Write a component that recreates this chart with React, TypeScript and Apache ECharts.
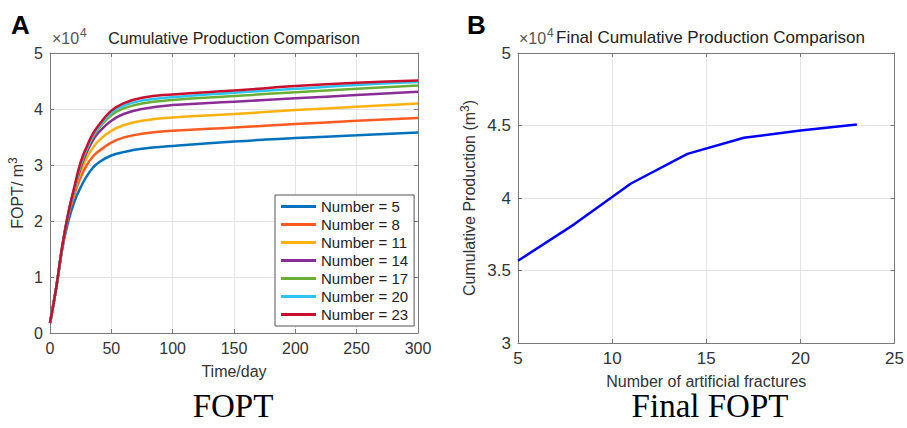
import React, { useEffect, useRef } from "react";
import * as echarts from "echarts";

// Time axis (days) and cumulative production (×10^4 m³) for each fracture count
const TIME_DAYS = [0, 5, 10, 15, 20, 25, 30, 35, 40, 50, 60, 75, 100, 150, 200, 250, 300];
const N5 = [0.18, 0.8, 1.5, 2.0, 2.35, 2.6, 2.8, 2.95, 3.05, 3.17, 3.23, 3.29, 3.34, 3.42, 3.48, 3.53, 3.58];
const N8 = [0.18, 0.8, 1.52, 2.1, 2.48, 2.78, 3.0, 3.15, 3.25, 3.4, 3.49, 3.56, 3.61, 3.67, 3.73, 3.79, 3.84];
const N11 = [0.18, 0.8, 1.53, 2.12, 2.53, 2.88, 3.13, 3.31, 3.44, 3.61, 3.71, 3.79, 3.85, 3.91, 3.98, 4.04, 4.1];
const N14 = [0.18, 0.8, 1.54, 2.13, 2.57, 2.95, 3.23, 3.44, 3.59, 3.79, 3.91, 4.0, 4.07, 4.13, 4.19, 4.25, 4.31];
const N17 = [0.18, 0.8, 1.54, 2.14, 2.59, 2.99, 3.28, 3.5, 3.66, 3.89, 4.01, 4.1, 4.16, 4.23, 4.3, 4.36, 4.42];
const N20 = [0.18, 0.8, 1.55, 2.15, 2.6, 3.02, 3.3, 3.53, 3.69, 3.93, 4.06, 4.15, 4.21, 4.29, 4.36, 4.43, 4.48];
const N23 = [0.18, 0.8, 1.55, 2.15, 2.62, 3.05, 3.33, 3.56, 3.72, 3.97, 4.1, 4.2, 4.26, 4.33, 4.41, 4.47, 4.51];

const SERIES_NAMES = [
  "Number = 5",
  "Number = 8",
  "Number = 11",
  "Number = 14",
  "Number = 17",
  "Number = 20",
  "Number = 23",
];
const SERIES_VALUES = [N5, N8, N11, N14, N17, N20, N23];
const SERIES_COLORS = ["#0072BD", "#FF5A1F", "#FFB20F", "#8A2E97", "#6AAF35", "#2EC4F2", "#C8102E"];

// Final cumulative production (×10^4 m³) vs number of fractures
const FRACTURE_COUNTS = [5, 8, 11, 14, 17, 20, 23];
const FINAL_PRODUCTION = [3.567, 3.82, 4.1, 4.304, 4.415, 4.465, 4.507];

const FONT = "'Liberation Sans', Arial, Helvetica, sans-serif";
const AXIS_COLOR = "#7a7a7a";
const LABEL_COLOR = "#333333";
const GRID_COLOR = "#e4e4e4";

function boxAxis(gridIndex: number, position: string, min: number, max: number, interval: number, fs: number, withLabels: boolean, extra: any = {}) {
  return {
    type: "value",
    gridIndex,
    position,
    min,
    max,
    interval,
    axisLine: { show: true, onZero: false, lineStyle: { color: AXIS_COLOR, width: 1 } },
    axisTick: { show: true, inside: true, length: 4, lineStyle: { color: AXIS_COLOR } },
    axisLabel: withLabels
      ? { show: true, color: LABEL_COLOR, fontSize: fs, fontFamily: FONT, margin: 7 }
      : { show: false },
    splitLine: withLabels ? { show: true, lineStyle: { color: GRID_COLOR, width: 1 } } : { show: false },
    ...extra,
  };
}

export default function App() {
  const ref = useRef<HTMLDivElement>(null);

  useEffect(() => {
    if (!ref.current) return;
    const chart = echarts.init(ref.current, null, { renderer: "svg" });

    const lineSeries = SERIES_NAMES.map((name, i) => ({
      name,
      type: "line",
      xAxisIndex: 0,
      yAxisIndex: 0,
      data: TIME_DAYS.map((t, k) => [t, SERIES_VALUES[i][k]]),
      smooth: 0.5,
      showSymbol: false,
      symbol: "none",
      lineStyle: { color: SERIES_COLORS[i], width: 2.5 },
      itemStyle: { color: SERIES_COLORS[i] },
      z: 3 + i,
    }));

    const option: any = {
      animation: false,
      backgroundColor: "#ffffff",
      textStyle: { fontFamily: FONT },
      grid: [
        { left: 50, top: 53, width: 368, height: 280 },
        { left: 518, top: 53, width: 377, height: 290 },
      ],
      xAxis: [
        boxAxis(0, "bottom", 0, 300, 50, 16, true, {
          name: "Time/day",
          nameLocation: "middle",
          nameGap: 30,
          nameTextStyle: { color: LABEL_COLOR, fontSize: 16, fontFamily: FONT },
        }),
        boxAxis(0, "top", 0, 300, 50, 16, false),
        boxAxis(1, "bottom", 5, 25, 5, 17, true, {
          name: "Number of artificial fractures",
          nameLocation: "middle",
          nameGap: 30,
          nameTextStyle: { color: LABEL_COLOR, fontSize: 16, fontFamily: FONT },
        }),
        boxAxis(1, "top", 5, 25, 5, 17, false),
      ],
      yAxis: [
        boxAxis(0, "left", 0, 5, 1, 16, true, {
          name: "FOPT/ m{sup|3}",
          nameLocation: "middle",
          nameGap: 22,
          nameTextStyle: {
            color: LABEL_COLOR,
            fontSize: 16,
            fontFamily: FONT,
            rich: { sup: { fontSize: 12, padding: [0, 0, 9, 0], color: LABEL_COLOR, fontFamily: FONT } },
          },
        }),
        boxAxis(0, "right", 0, 5, 1, 16, false),
        boxAxis(1, "left", 3, 5, 0.5, 17, true, {
          name: "Cumulative Production (m{sup|3})",
          nameLocation: "middle",
          nameGap: 38,
          nameTextStyle: {
            color: LABEL_COLOR,
            fontSize: 16,
            fontFamily: FONT,
            rich: { sup: { fontSize: 12, padding: [0, 0, 9, 0], color: LABEL_COLOR, fontFamily: FONT } },
          },
        }),
        boxAxis(1, "right", 3, 5, 0.5, 17, false),
      ],
      legend: {
        data: SERIES_NAMES,
        orient: "vertical",
        left: 275,
        top: 195,
        padding: [4, 6, 4, 6],
        itemGap: 3,
        itemWidth: 35,
        itemHeight: 3,
        icon: "rect",
        borderColor: "#555555",
        borderWidth: 1,
        backgroundColor: "#ffffff",
        textStyle: { color: "#222222", fontSize: 15, fontFamily: FONT, lineHeight: 14.7 },
      },
      graphic: [
        { type: "text", left: 11, top: 12, style: { text: "A", font: `bold 26px ${FONT}`, fill: "#000" } },
        { type: "text", left: 467, top: 12, style: { text: "B", font: `bold 26px ${FONT}`, fill: "#000" } },
        { type: "text", x: 52, y: 46, style: { text: "×10", font: `16px ${FONT}`, fill: "#555", textVerticalAlign: "bottom" } },
        { type: "text", x: 80, y: 39, style: { text: "4", font: `12px ${FONT}`, fill: "#555", textVerticalAlign: "bottom" } },
        { type: "text", x: 519, y: 46, style: { text: "×10", font: `16px ${FONT}`, fill: "#555", textVerticalAlign: "bottom" } },
        { type: "text", x: 547, y: 39, style: { text: "4", font: `12px ${FONT}`, fill: "#555", textVerticalAlign: "bottom" } },
        {
          type: "text",
          x: 234,
          y: 38,
          style: { text: "Cumulative Production Comparison", font: `16px ${FONT}`, fill: "#222", textAlign: "center", textVerticalAlign: "middle" },
        },
        {
          type: "text",
          x: 556,
          y: 37,
          style: { text: "Final Cumulative Production Comparison", font: `17px ${FONT}`, fill: "#222", textAlign: "left", textVerticalAlign: "middle" },
        },
        {
          type: "text",
          x: 233,
          y: 422,
          style: { text: "FOPT", font: `33px 'Liberation Serif', 'Times New Roman', serif`, fill: "#000", textAlign: "center", textVerticalAlign: "bottom" },
        },
        {
          type: "text",
          x: 710,
          y: 422,
          style: { text: "Final FOPT", font: `33px 'Liberation Serif', 'Times New Roman', serif`, fill: "#000", textAlign: "center", textVerticalAlign: "bottom" },
        },
      ],
      series: [
        ...lineSeries,
        {
          name: "Final",
          type: "line",
          xAxisIndex: 2,
          yAxisIndex: 2,
          data: FRACTURE_COUNTS.map((n, k) => [n, FINAL_PRODUCTION[k]]),
          showSymbol: false,
          symbol: "none",
          lineStyle: { color: "#0000FF", width: 2.5 },
          itemStyle: { color: "#0000FF" },
        },
      ],
    };

    chart.setOption(option);
    return () => chart.dispose();
  }, []);

  return (
    <div
      ref={ref}
      style={{ position: "fixed", left: 0, top: 0, width: 907, height: 428, background: "#fff" }}
    />
  );
}
